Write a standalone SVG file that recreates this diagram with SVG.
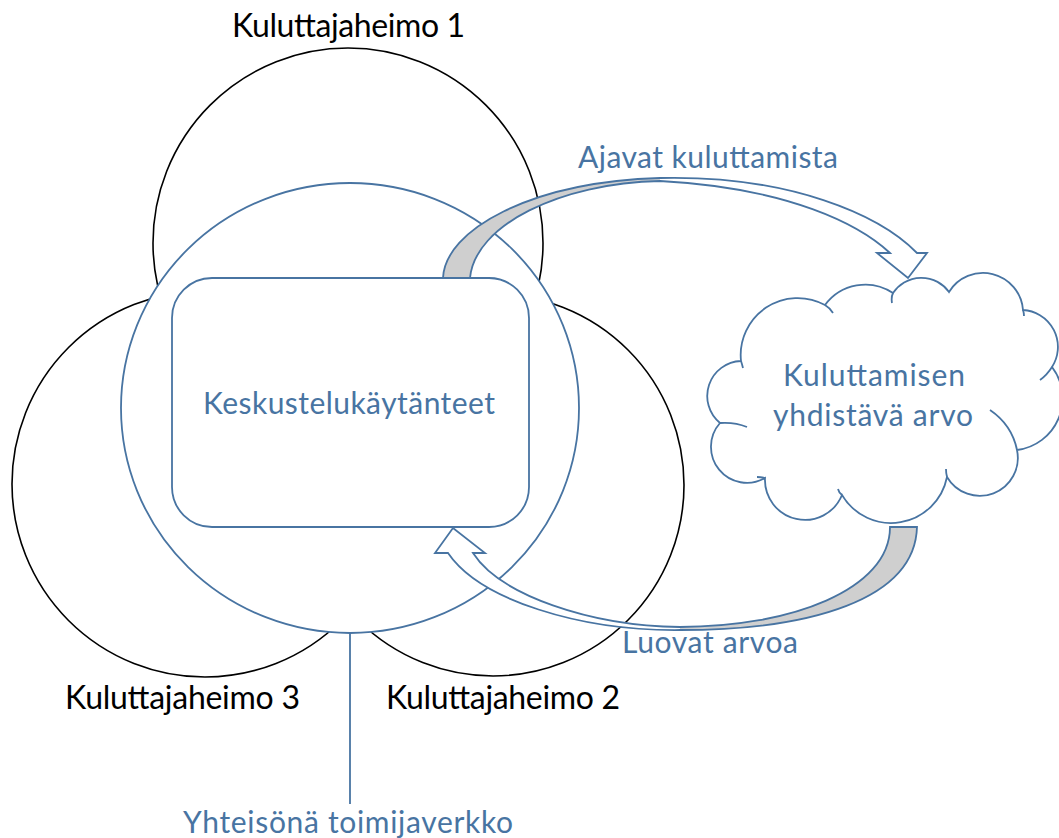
<svg xmlns="http://www.w3.org/2000/svg" width="1059" height="838" viewBox="0 0 1059 838">
<style>
.tribe{fill:#fff;stroke:#000;stroke-width:1.6}
.blue{fill:#fff;stroke:#4874a2;stroke-width:1.8}
.bline{fill:none;stroke:#4874a2;stroke-width:1.8}
.gray{fill:#cfcfcf;stroke:none}
.wfill{fill:#fff;stroke:none}
.tb{font-family:Lato,"Open Sans",sans-serif;font-size:32px;fill:#000;text-anchor:middle}
.tl{font-family:Lato,"Open Sans",sans-serif;font-size:30px;fill:#4874a2;text-anchor:middle}
</style>
<rect width="1059" height="838" fill="#fff"/>
<g id="tribe1">
<circle class="tribe" cx="348" cy="243" r="195"/>
<text class="tb" x="348.5" y="37" textLength="233">Kuluttajaheimo 1</text>
</g>
<g id="tribe3">
<circle class="tribe" cx="205" cy="484" r="193"/>
<text class="tb" x="182.5" y="709" textLength="235">Kuluttajaheimo 3</text>
</g>
<g id="tribe2">
<circle class="tribe" cx="493" cy="485" r="191"/>
<text class="tb" x="503" y="709" textLength="234">Kuluttajaheimo 2</text>
</g>
<g id="network">
<ellipse class="blue" cx="350" cy="408" rx="229" ry="225"/>
</g>
<g id="practices">
<rect class="blue" x="172" y="278" width="357" height="249" rx="40" ry="40"/>
<text class="tl" x="349" y="414" textLength="292">Keskustelukäytänteet</text>
</g>
<g id="value">
<path class="blue" d="M741,361 A57,57 0 0 1 825,305 A50,50 0 0 1 893,293 A34,34 0 0 1 949,292 A40,40 0 0 1 1023,310 A37,37 0 0 1 1052,367 A52,52 0 0 1 1017,450 A38,38 0 0 1 947,477 A57,57 0 0 1 842,495 A40,40 0 0 1 765,478 A36,36 0 0 1 720,423 A35,35 0 0 1 741,361 Z"/>
<path class="bline" d="M825,305 Q830,308 833,313 M892,303 Q891,297 893,293 M1023,310 Q1024,313 1024,316 M1052,367 Q1047,375 1040,380 M990,410 Q1012,425 1017,450 M947,477 Q946,473 946,469 M842,495 Q839,493 838,489 M765,478 Q761,477 757,477 M720,423 Q735,422 747,427 M741,361 Q742,364 743,368"/>
<text class="tl" x="874" y="386" textLength="182">Kuluttamisen</text>
<text class="tl" x="873" y="426" textLength="200">yhdistävä arvo</text>
</g>
<g id="connectors">
<g id="arrow-top">
<path class="wfill" d="M443,278 C445,230 530,182 660,178 C790,175 880,215 917,253 L927,253 L908,278 L877,253 L890,253 C860,225 790,188 660,181 C560,183 475,225 470,278 Z"/>
<path class="gray" d="M443,278 C445,230 530,182 660,178 L660,181 C560,183 475,225 470,278 Z"/>
<path class="bline" d="M443,278 C445,230 530,182 660,178 C790,175 880,215 917,253 L927,253 L908,278 L877,253 L890,253 C860,225 790,188 660,181 C560,183 475,225 470,278 Z"/>
</g>
<g id="arrow-bottom">
<path class="wfill" d="M917,527 C915,600 810,630 680,630 C580,631 480,600 448,553 L435,553 L453,528 L485,553 L473,553 C500,595 590,626 680,627 C790,627 890,590 890,527 Z"/>
<path class="gray" d="M917,527 C915,600 810,630 680,630 L680,627 C790,627 890,590 890,527 Z"/>
<path class="bline" d="M917,527 C915,600 810,630 680,630 C580,631 480,600 448,553 L435,553 L453,528 L485,553 L473,553 C500,595 590,626 680,627 C790,627 890,590 890,527 Z"/>
</g>
<line class="bline" x1="350" y1="633" x2="350" y2="804"/>
</g>
<g id="labels">
<text class="tl" x="708" y="168" textLength="260">Ajavat kuluttamista</text>
<text class="tl" x="710" y="653" textLength="176">Luovat arvoa</text>
<text class="tl" x="348" y="833" textLength="330">Yhteisönä toimijaverkko</text>
</g>
</svg>
